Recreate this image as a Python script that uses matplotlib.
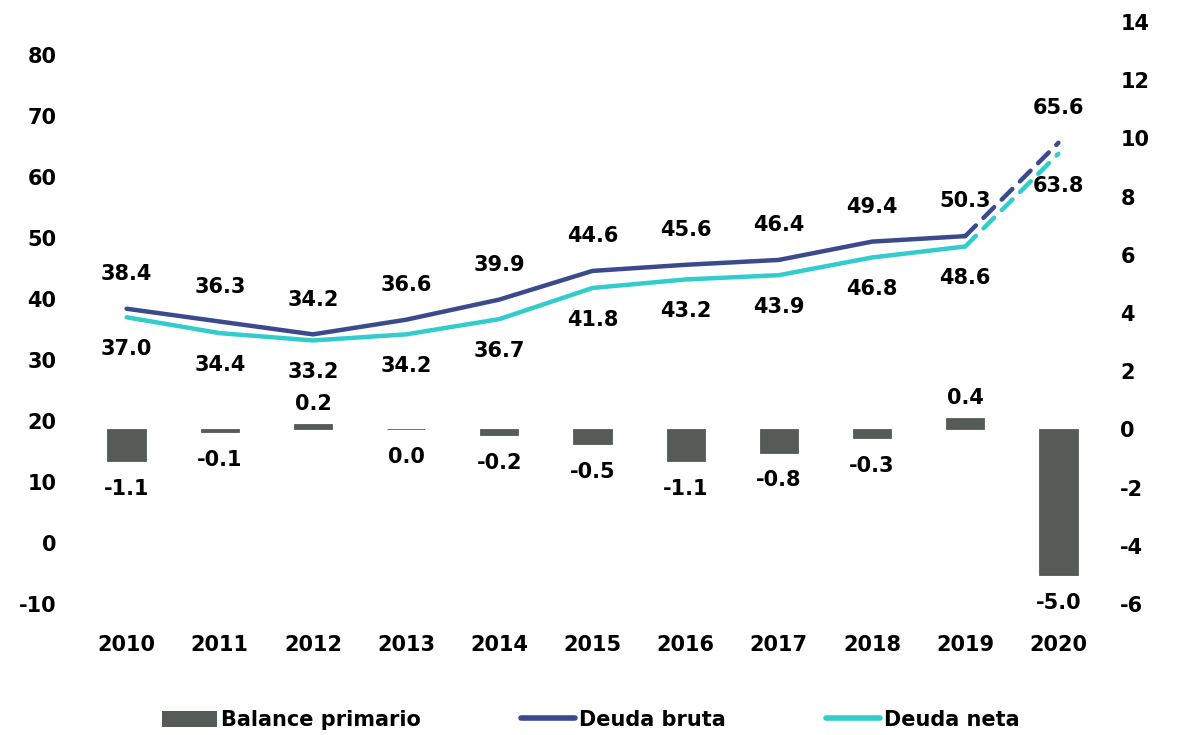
import matplotlib
matplotlib.use("Agg")
import matplotlib.pyplot as plt
from matplotlib.patches import Patch
from matplotlib.lines import Line2D

years = ["2010", "2011", "2012", "2013", "2014", "2015", "2016", "2017", "2018", "2019", "2020"]
deuda_bruta = [38.4, 36.3, 34.2, 36.6, 39.9, 44.6, 45.6, 46.4, 49.4, 50.3, 65.6]
deuda_neta = [37.0, 34.4, 33.2, 34.2, 36.7, 41.8, 43.2, 43.9, 46.8, 48.6, 63.8]
balance_primario = [-1.1, -0.1, 0.2, 0.0, -0.2, -0.5, -1.1, -0.8, -0.3, 0.4, -5.0]

BAR_COLOR = "#575B58"
BRUTA_COLOR = "#3B4A8C"
NETA_COLOR = "#33CCCC"
FS = 15

plt.rcParams["font.family"] = ["DejaVu Sans"]
plt.rcParams["font.weight"] = "bold"
plt.rcParams["axes.unicode_minus"] = False

fig = plt.figure(figsize=(11.82, 7.35), dpi=100)
ax = fig.add_axes([80 / 1182, 1 - 604 / 735, 1025 / 1182, 582 / 735])
ax2 = ax.twinx()

x = list(range(len(years)))

# bars on the right axis
ax2.bar(x, balance_primario, width=0.41, color=BAR_COLOR, edgecolor=BAR_COLOR, linewidth=0.6, zorder=2)
for xi, v in zip(x, balance_primario):
    off = 14 if v > 0 else -20
    ax2.annotate(f"{v:.1f}", (xi, v), xytext=(0, off), textcoords="offset points",
                 ha="center", va="center", fontsize=FS, fontweight="bold")

# lines on the left axis: solid up to 2019, dashed 2019-2020
for series, color, off in [(deuda_bruta, BRUTA_COLOR, 25), (deuda_neta, NETA_COLOR, -23)]:
    ax.plot(x[:-1], series[:-1], color=color, lw=3.2, solid_capstyle="round", zorder=3)
    ax.plot(x[-2:], series[-2:], color=color, lw=3.2, dashes=(3.4, 2.4),
            dash_capstyle="round", zorder=3)
    for xi, v in zip(x, series):
        ax.annotate(f"{v:.1f}", (xi, v), xytext=(0, off), textcoords="offset points",
                    ha="center", va="center", fontsize=FS, fontweight="bold")

ax.set_xlim(-0.5, len(years) - 0.5)
ax.set_ylim(-9.67, 85.4)
ax.set_yticks(range(-10, 81, 10))
ax2.set_ylim(-6, 14)
ax2.set_yticks(range(-6, 15, 2))
ax.set_xticks(x)
ax.set_xticklabels(years)

for a in (ax, ax2):
    for s in a.spines.values():
        s.set_visible(False)
    a.tick_params(length=0, labelsize=FS)
ax.tick_params(axis="x", pad=22)
ax.tick_params(axis="y", pad=17)
ax2.tick_params(axis="y", pad=11)
ax.set_zorder(ax2.get_zorder() + 1)
ax.patch.set_visible(False)

handles = [
    Patch(facecolor=BAR_COLOR, label="Balance primario"),
    Line2D([], [], color=BRUTA_COLOR, lw=4, solid_capstyle="round", label="Deuda bruta"),
    Line2D([], [], color=NETA_COLOR, lw=4, solid_capstyle="round", label="Deuda neta"),
]
fig.legend(handles=handles, loc="center", bbox_to_anchor=(0.5, 1 - 720 / 735), ncol=3,
           frameon=False, fontsize=FS, handlelength=2.6, handletextpad=0.2,
           columnspacing=4.8, handleheight=0.8)

fig.savefig("out.png", dpi=100)
